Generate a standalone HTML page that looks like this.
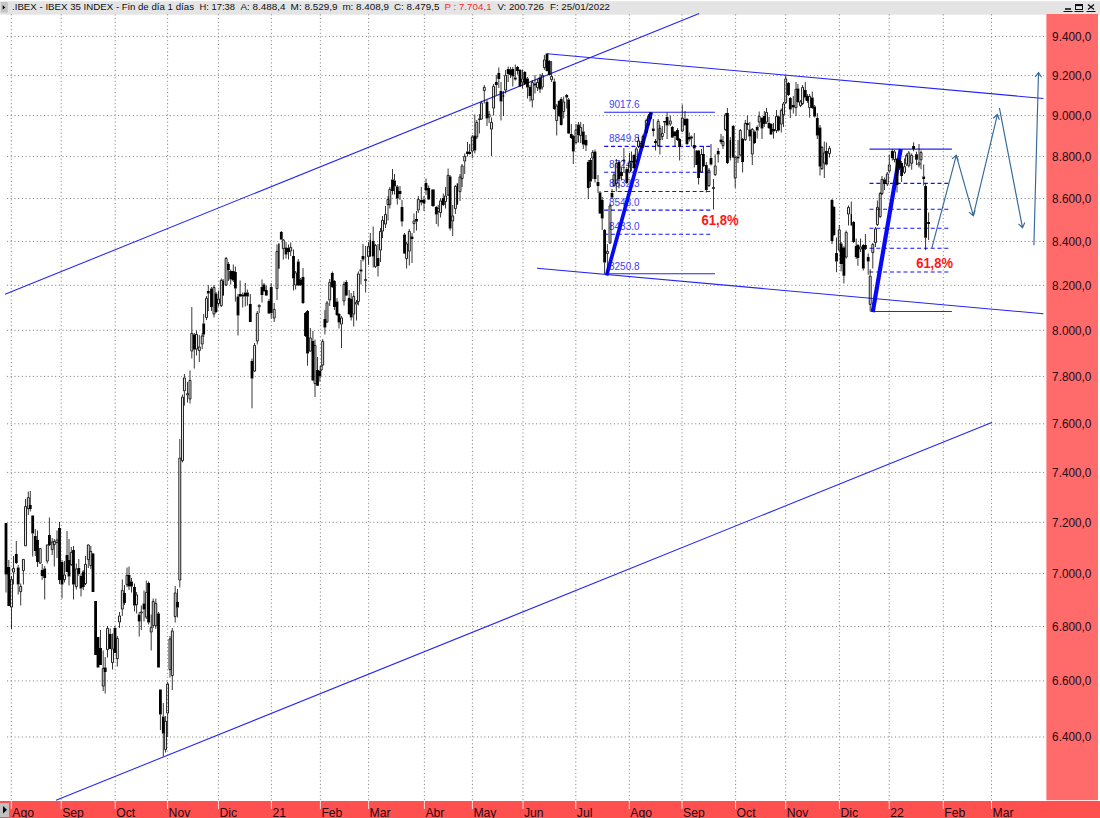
<!DOCTYPE html>
<html lang="es"><head><meta charset="utf-8"><title>.IBEX - IBEX 35 INDEX</title>
<style>html,body{margin:0;padding:0;background:#fff;overflow:hidden}svg{display:block}text{font-family:"Liberation Sans",Arial,sans-serif}</style></head><body>
<svg width="1100" height="818" viewBox="0 0 1100 818">
<rect width="1100" height="818" fill="#fff"/>
<rect x="0" y="1.2" width="1100" height="13.5" fill="#e4e4e4"/>
<rect x="0.8" y="2" width="7" height="10.6" fill="#c4c4c4"/><path d="M2.7 5.2 L5.3 7.4 L2.7 9.6 Z" fill="#000"/>
<g stroke="#787878" stroke-width="1" stroke-dasharray="1.1 2.6" fill="none" opacity="0.9">
<line x1="11.3" y1="14.3" x2="11.3" y2="801"/>
<line x1="61.2" y1="14.3" x2="61.2" y2="801"/>
<line x1="115.2" y1="14.3" x2="115.2" y2="801"/>
<line x1="167.6" y1="14.3" x2="167.6" y2="801"/>
<line x1="218.4" y1="14.3" x2="218.4" y2="801"/>
<line x1="271.4" y1="14.3" x2="271.4" y2="801"/>
<line x1="320.4" y1="14.3" x2="320.4" y2="801"/>
<line x1="368.6" y1="14.3" x2="368.6" y2="801"/>
<line x1="424.4" y1="14.3" x2="424.4" y2="801"/>
<line x1="472.4" y1="14.3" x2="472.4" y2="801"/>
<line x1="523" y1="14.3" x2="523" y2="801"/>
<line x1="575.8" y1="14.3" x2="575.8" y2="801"/>
<line x1="629.3" y1="14.3" x2="629.3" y2="801"/>
<line x1="682" y1="14.3" x2="682" y2="801"/>
<line x1="735.6" y1="14.3" x2="735.6" y2="801"/>
<line x1="785.7" y1="14.3" x2="785.7" y2="801"/>
<line x1="839.4" y1="14.3" x2="839.4" y2="801"/>
<line x1="889.2" y1="14.3" x2="889.2" y2="801"/>
<line x1="943.3" y1="14.3" x2="943.3" y2="801"/>
<line x1="991.5" y1="14.3" x2="991.5" y2="801"/>
<line x1="7" y1="36.4" x2="1046.4" y2="36.4"/>
<line x1="7" y1="75.6" x2="1046.4" y2="75.6"/>
<line x1="7" y1="115.6" x2="1046.4" y2="115.6"/>
<line x1="7" y1="156.6" x2="1046.4" y2="156.6"/>
<line x1="7" y1="198.5" x2="1046.4" y2="198.5"/>
<line x1="7" y1="241.4" x2="1046.4" y2="241.4"/>
<line x1="7" y1="285.3" x2="1046.4" y2="285.3"/>
<line x1="7" y1="330.3" x2="1046.4" y2="330.3"/>
<line x1="7" y1="376.4" x2="1046.4" y2="376.4"/>
<line x1="7" y1="423.8" x2="1046.4" y2="423.8"/>
<line x1="7" y1="472.4" x2="1046.4" y2="472.4"/>
<line x1="7" y1="522.3" x2="1046.4" y2="522.3"/>
<line x1="7" y1="573.6" x2="1046.4" y2="573.6"/>
<line x1="7" y1="626.5" x2="1046.4" y2="626.5"/>
<line x1="7" y1="680.9" x2="1046.4" y2="680.9"/>
<line x1="7" y1="737.0" x2="1046.4" y2="737.0"/>
</g>
<g stroke="#2424f4" stroke-width="1.05" fill="none">
<line x1="5" y1="294.3" x2="699.2" y2="13.6"/>
<line x1="56" y1="800.3" x2="991.8" y2="422.6"/>
<line x1="547.2" y1="53.7" x2="1043.5" y2="98.4"/>
<line x1="537" y1="268.3" x2="1043.5" y2="313.7"/>
<line x1="604.2" y1="112.3" x2="714.9" y2="112.3"/>
<line x1="606.2" y1="273.7" x2="715" y2="273.7"/>
<line x1="869.5" y1="149.1" x2="951.9" y2="149.1"/>
<line x1="872" y1="311.5" x2="951.9" y2="311.5"/>
</g>
<g stroke="#1010ff" stroke-width="1.1" stroke-dasharray="4 2.8" fill="none">
<line x1="604.2" y1="146.4" x2="712.5" y2="146.4"/>
<line x1="604.2" y1="172.2" x2="712.5" y2="172.2"/>
<line x1="604.2" y1="191.5" x2="712.5" y2="191.5"/>
<line x1="604.2" y1="210.1" x2="712.5" y2="210.1"/>
<line x1="604.2" y1="234.3" x2="712.5" y2="234.3"/>
<line x1="869.5" y1="183.4" x2="950.5" y2="183.4"/>
<line x1="869.5" y1="209.3" x2="950.5" y2="209.3"/>
<line x1="869.5" y1="228.3" x2="950.5" y2="228.3"/>
<line x1="869.5" y1="248.2" x2="950.5" y2="248.2"/>
<line x1="869.5" y1="272.0" x2="950.5" y2="272.0"/>
</g>
<g fill="#4242ff" font-size="10px">
<text x="609" y="107.8">9017.6</text>
<text x="609" y="141.7">8849.8</text>
<text x="609" y="167.8">8724.7</text>
<text x="609" y="187.3">8632.3</text>
<text x="609" y="205.7">8543.0</text>
<text x="609" y="229.8">8433.0</text>
<text x="609" y="269.5">8250.8</text>
</g>
<g stroke="#0808f8" stroke-linecap="butt" fill="none">
<line x1="606.6" y1="275.6" x2="651.3" y2="112.2" stroke-width="3.7"/>
<line x1="872.7" y1="312.2" x2="900.7" y2="149" stroke-width="4.2"/>
</g>
<g fill="#ff1616" font-size="14px" font-weight="bold">
<text x="701.5" y="224.8" textLength="37.2" lengthAdjust="spacingAndGlyphs">61,8%</text>
<text x="916.2" y="267.8" textLength="36.8" lengthAdjust="spacingAndGlyphs">61,8%</text>
</g>
<g id="candles">
<path d="M6.0 523.0V523.0M6.0 574.5V592.5M8.8 560.0V567.0M8.8 606.0V606.0M11.5 576.0V579.0M11.5 607.5V629.0M13.5 556.0V568.0M13.5 572.5V584.5M16.3 541.0V554.0M16.3 563.0V564.0M18.2 565.0V567.5M18.2 584.5V594.5M20.7 583.5V586.0M20.7 592.0V605.5M23.4 559.0V559.0M23.4 571.0V584.5M25.5 499.0V506.0M25.5 546.2V546.2M28.3 491.5V497.2M28.3 509.0V515.0M30.3 491.0V505.0M30.3 509.0V511.5M32.7 515.5V515.5M32.7 533.5V556.5M35.3 529.0V536.0M35.3 551.0V556.0M37.5 530.5V540.0M37.5 562.0V567.0M40.2 548.2V548.2M40.2 563.5V564.0M42.2 564.0V570.0M42.2 576.0V580.0M44.7 566.0V568.5M44.7 578.0V599.5M47.3 544.5V544.5M47.3 561.5V563.5M49.4 517.5V535.0M49.4 545.0V546.0M52.2 538.0V541.5M52.2 550.0V555.0M54.3 539.0V541.0M54.3 545.0V566.5M57.0 530.5V539.5M57.0 543.0V558.0M59.5 522.0V528.0M59.5 580.0V584.0M62.0 560.0V562.0M62.0 584.5V598.5M64.5 561.0V574.5M64.5 580.0V582.5M67.0 531.0V555.0M67.0 572.0V572.0M69.0 539.0V560.0M69.0 576.5V585.5M71.3 547.0V552.0M71.3 565.0V566.0M73.5 546.0V550.0M73.5 584.5V599.5M76.3 563.5V568.5M76.3 587.0V589.5M78.8 559.0V568.0M78.8 574.0V576.0M81.0 574.0V576.0M81.0 588.5V596.5M83.3 570.0V571.5M83.3 587.0V590.0M85.5 556.0V564.0M85.5 584.0V585.0M88.3 544.5V544.5M88.3 560.0V568.0M90.8 546.0V551.0M90.8 566.0V569.0M93.0 553.0V553.5M93.0 592.0V592.0M95.6 601.0V601.0M95.6 655.0V655.0M98.0 637.0V637.0M98.0 667.5V667.5M100.5 630.0V648.0M100.5 665.0V665.0M103.2 650.5V668.0M103.2 686.5V691.0M105.2 657.0V667.5M105.2 672.0V693.5M107.5 626.0V628.0M107.5 650.0V657.5M110.2 628.5V634.0M110.2 649.0V649.0M112.5 633.5V648.5M112.5 663.0V669.5M115.0 626.0V628.0M115.0 653.0V653.0M117.3 636.0V638.0M117.3 659.0V666.5M119.5 612.0V615.5M119.5 622.5V628.0M122.3 579.5V590.0M122.3 609.5V616.0M124.5 585.0V593.0M124.5 603.0V605.0M127.0 567.5V575.0M127.0 585.0V587.0M129.0 566.5V575.0M129.0 586.5V590.0M131.5 578.0V581.5M131.5 586.5V592.5M134.5 583.5V587.0M134.5 605.5V611.5M136.6 592.0V594.5M136.6 605.0V613.5M139.2 612.0V614.5M139.2 621.5V636.5M141.3 605.5V611.5M141.3 613.5V630.0M144.0 590.5V603.5M144.0 609.5V621.5M146.3 580.5V592.0M146.3 617.5V619.0M148.6 581.5V583.0M148.6 622.5V624.5M151.2 614.5V627.0M151.2 632.5V650.5M153.2 598.5V601.0M153.2 626.0V628.0M155.8 598.5V603.0M155.8 626.0V629.0M158.5 612.0V613.5M158.5 667.5V667.5M160.4 689.5V689.5M160.4 714.5V730.0M163.3 703.0V716.5M163.3 733.5V756.5M165.6 716.0V721.0M165.6 750.0V752.5M167.6 682.0V683.5M167.6 713.5V737.0M170.0 636.0V638.5M170.0 670.0V677.5M172.3 628.0V630.5M172.3 676.0V690.0M175.2 586.0V592.5M175.2 617.0V622.5M177.5 589.0V602.0M177.5 607.5V617.5M179.8 439.0V457.6M179.8 580.5V587.5M182.5 394.6V396.7M182.5 461.0V462.4M184.4 374.0V377.5M184.4 391.2V405.6M187.5 382.0V393.3M187.5 395.3V402.5M190.0 370.5V380.0M190.0 399.5V403.5M191.8 307.0V333.0M191.8 351.5V358.5M194.3 333.0V334.5M194.3 349.5V368.5M196.5 330.5V334.0M196.5 349.5V355.5M199.3 335.0V346.5M199.3 351.0V362.0M202.2 333.0V335.5M202.2 344.5V349.0M203.7 314.0V323.5M203.7 334.5V337.0M206.5 296.0V298.0M206.5 318.0V320.0M208.3 285.0V291.0M208.3 293.5V311.0M211.5 287.0V288.5M211.5 307.0V311.0M214.0 285.0V287.0M214.0 314.5V317.5M216.0 292.0V293.5M216.0 312.0V313.0M218.5 290.5V298.5M218.5 304.0V306.5M221.3 278.5V280.0M221.3 306.0V307.0M223.2 279.0V280.5M223.2 295.5V296.0M226.1 257.0V258.0M226.1 285.5V286.0M228.4 262.0V264.0M228.4 270.0V281.0M230.7 269.5V271.0M230.7 279.5V284.5M233.3 264.5V271.0M233.3 280.5V282.0M235.4 266.5V272.0M235.4 288.5V301.5M238.0 294.0V296.5M238.0 315.5V335.5M240.1 280.5V294.0M240.1 296.5V297.0M242.7 292.5V294.5M242.7 296.5V307.5M245.3 283.0V292.5M245.3 296.5V306.5M247.4 289.5V292.5M247.4 296.5V305.5M250.3 294.0V304.0M250.3 322.0V322.0M252.0 358.5V361.0M252.0 378.5V408.3M254.6 343.0V345.0M254.6 371.5V372.0M257.3 311.0V313.0M257.3 341.5V344.5M259.2 304.5V304.8M259.2 307.2V313.0M262.0 279.5V287.0M262.0 295.0V302.5M264.0 283.0V284.5M264.0 291.0V292.0M266.3 286.0V290.0M266.3 295.5V296.0M269.0 299.0V301.0M269.0 313.5V314.0M271.2 283.0V287.0M271.2 313.0V318.5M274.2 303.0V309.0M274.2 318.5V322.0M277.0 244.5V251.0M277.0 289.0V300.0M278.9 243.0V244.0M278.9 268.5V269.0M281.3 231.0V232.0M281.3 239.5V240.0M283.3 239.0V239.5M283.3 249.0V259.5M286.0 242.0V247.5M286.0 254.5V258.5M288.5 244.5V248.0M288.5 252.0V259.5M290.7 242.5V247.0M290.7 251.5V256.0M293.5 249.5V256.0M293.5 278.5V290.5M295.6 271.0V272.5M295.6 285.5V289.5M298.3 259.0V261.5M298.3 285.5V286.0M300.6 278.0V279.5M300.6 285.0V286.0M303.0 268.0V277.0M303.0 303.0V304.0M305.5 312.0V313.0M305.5 336.0V337.0M307.5 310.0V311.0M307.5 353.5V365.7M310.3 328.0V337.5M310.3 351.5V352.0M312.9 331.0V341.0M312.9 380.5V381.0M315.0 339.5V345.0M315.0 384.0V397.0M317.5 357.0V370.0M317.5 385.7V386.0M319.9 370.0V371.0M319.9 376.5V381.5M321.2 365.0V365.7M321.2 370.5V371.0M322.7 339.0V341.0M322.7 365.5V366.0M324.9 310.0V319.0M324.9 327.5V334.5M327.0 301.0V302.5M327.0 322.5V323.0M329.7 279.0V282.0M329.7 300.5V306.0M332.3 271.5V273.0M332.3 287.0V288.0M334.4 280.0V281.0M334.4 307.0V310.0M337.0 298.0V301.5M337.0 315.0V316.0M339.0 313.0V314.0M339.0 322.5V328.5M341.5 316.0V317.5M341.5 324.5V348.0M344.0 281.5V284.0M344.0 301.5V305.5M346.3 280.0V282.0M346.3 295.5V296.0M349.2 290.0V298.0M349.2 314.0V315.0M351.2 293.0V299.0M351.2 317.5V320.5M353.7 291.0V296.0M353.7 314.5V326.5M356.5 300.0V302.0M356.5 304.5V320.5M358.4 271.5V273.5M358.4 302.0V305.5M361.0 260.0V269.5M361.0 271.5V284.5M363.0 244.0V256.0M363.0 259.5V261.5M365.6 246.0V279.0M365.6 281.0V292.5M368.5 242.0V246.0M368.5 257.0V265.0M370.3 233.0V240.0M370.3 256.0V257.0M373.2 226.5V241.0M373.2 256.5V267.5M375.4 244.0V245.0M375.4 267.0V268.0M378.0 244.0V258.0M378.0 266.0V276.5M380.5 228.0V231.0M380.5 250.5V262.0M382.5 216.0V220.0M382.5 231.5V238.0M385.5 206.0V214.0M385.5 224.5V228.0M388.0 196.0V199.0M388.0 205.0V220.5M389.8 187.0V189.0M389.8 205.0V208.5M392.5 169.0V179.5M392.5 191.0V194.5M394.5 174.0V180.5M394.5 186.5V194.5M397.3 185.0V186.5M397.3 198.5V204.5M400.0 186.0V191.0M400.0 194.0V200.0M402.0 200.0V207.0M402.0 221.5V226.5M404.5 233.0V234.5M404.5 253.5V254.0M406.6 242.0V243.5M406.6 259.0V268.5M409.3 229.0V231.0M409.3 251.5V265.5M412.0 233.0V236.5M412.0 239.0V263.0M414.0 213.5V220.5M414.0 224.0V233.0M416.5 211.0V219.0M416.5 221.5V230.5M418.3 196.0V199.0M418.3 210.5V213.0M421.3 187.0V200.0M421.3 202.5V205.5M424.0 196.0V199.5M424.0 203.5V211.0M426.0 178.5V183.0M426.0 190.5V195.0M428.7 185.5V188.0M428.7 199.5V200.0M433.0 189.0V189.5M433.0 206.0V207.0M436.3 206.0V207.0M436.3 214.5V224.0M438.2 205.0V208.0M438.2 212.0V226.5M440.6 198.5V200.5M440.6 213.0V217.5M443.3 193.5V198.0M443.3 205.0V206.0M445.5 187.0V195.5M445.5 202.0V208.5M448.1 168.5V175.0M448.1 195.5V196.0M450.1 175.0V176.5M450.1 228.5V230.5M452.7 205.0V215.5M452.7 221.5V236.0M455.4 185.0V186.0M455.4 209.0V214.0M457.4 183.0V183.5M457.4 204.5V205.0M460.0 174.0V176.5M460.0 192.0V201.0M462.1 164.0V165.5M462.1 179.0V187.0M464.7 153.5V156.0M464.7 161.5V174.0M467.5 142.0V151.5M467.5 154.0V156.5M469.6 144.0V152.0M469.6 154.0V154.5M472.3 135.0V136.5M472.3 151.5V158.0M474.8 114.5V135.5M474.8 150.5V153.5M476.8 120.0V122.0M476.8 137.5V139.0M479.4 114.0V118.5M479.4 120.0V133.5M481.4 101.0V102.5M481.4 119.5V120.0M484.3 85.0V87.0M484.3 91.0V103.5M487.0 100.0V102.0M487.0 118.5V126.0M489.1 111.0V114.0M489.1 117.5V123.0M491.5 117.5V122.0M491.5 129.5V156.0M493.6 84.0V86.0M493.6 108.5V115.5M496.3 75.0V82.0M496.3 85.0V95.0M498.8 67.5V73.0M498.8 79.0V88.0M501.0 82.0V91.0M501.0 101.5V120.5M503.5 91.0V95.0M503.5 97.0V116.0M505.6 70.0V75.0M505.6 90.5V93.5M508.2 66.5V69.0M508.2 74.0V82.0M510.5 67.0V69.5M510.5 75.0V78.0M512.8 67.0V69.0M512.8 76.5V86.5M515.3 64.5V77.5M515.3 79.5V80.5M517.5 66.0V67.0M517.5 71.0V74.5M520.0 69.0V70.0M520.0 86.5V87.0M522.5 69.5V78.5M522.5 82.5V88.5M524.8 71.0V72.0M524.8 84.0V85.0M527.5 77.0V78.5M527.5 87.5V98.5M530.0 85.0V87.0M530.0 96.0V101.5M532.3 80.0V82.0M532.3 100.5V107.5M535.0 75.0V83.5M535.0 85.5V93.5M537.5 79.0V82.0M537.5 88.0V91.0M540.0 74.0V77.5M540.0 89.5V93.0M542.3 73.0V75.0M542.3 87.5V89.5M544.4 55.0V59.5M544.4 68.0V69.8M547.0 53.5V53.5M547.0 71.0V71.5M549.3 60.0V61.0M549.3 75.0V75.5M551.6 61.0V76.0M551.6 80.0V82.0M554.3 78.5V81.5M554.3 109.0V110.0M556.7 104.0V105.5M556.7 121.0V135.5M559.2 100.0V101.0M559.2 116.0V117.0M561.2 97.0V99.0M561.2 125.0V125.5M563.7 96.5V101.5M563.7 112.0V118.5M566.7 94.0V95.0M566.7 97.5V108.5M568.6 98.0V99.5M568.6 133.5V134.0M571.3 124.0V134.0M571.3 138.0V139.0M573.3 135.0V136.0M573.3 151.5V164.0M576.0 124.0V129.5M576.0 143.0V144.0M578.5 122.0V124.5M578.5 135.0V142.5M580.7 122.0V127.0M580.7 136.0V143.0M583.3 124.0V131.5M583.3 144.5V149.0M586.0 135.0V140.0M586.0 145.5V151.0M588.3 160.0V162.0M588.3 188.0V199.0M590.5 158.0V160.0M590.5 181.5V187.0M592.7 150.0V152.0M592.7 158.5V179.0M595.0 149.5V151.5M595.0 179.0V182.5M598.0 175.0V182.0M598.0 186.0V193.0M600.0 191.0V192.5M600.0 213.5V214.0M602.2 197.0V200.0M602.2 218.5V230.0M604.6 229.0V230.0M604.6 262.5V274.0M607.4 244.0V251.0M607.4 254.0V274.0M610.0 204.0V205.5M610.0 243.5V244.0M612.0 189.0V193.0M612.0 197.5V199.0M614.0 173.0V174.5M614.0 186.0V187.0M616.3 159.0V163.0M616.3 184.0V191.5M619.0 161.0V162.0M619.0 179.0V188.5M621.5 168.0V172.0M621.5 176.0V180.0M623.9 148.0V159.5M623.9 161.5V173.0M626.8 167.0V169.0M626.8 183.0V184.0M629.5 153.0V162.5M629.5 172.5V173.0M631.5 151.5V161.0M631.5 162.5V171.0M634.0 154.0V155.0M634.0 168.0V169.0M636.3 147.0V148.5M636.3 162.0V163.0M638.5 137.0V140.5M638.5 147.0V148.0M641.0 141.0V143.0M641.0 147.5V148.5M643.0 134.5V136.0M643.0 147.5V148.0M646.3 118.5V120.0M646.3 133.0V134.0M648.5 114.0V116.0M648.5 125.0V126.0M650.5 112.0V112.5M650.5 119.0V120.0M653.3 119.0V128.5M653.3 131.0V136.5M655.5 139.0V141.0M655.5 143.0V150.5M658.2 119.0V121.0M658.2 146.0V147.0M659.9 125.0V128.0M659.9 140.0V154.5M662.3 126.0V133.0M662.3 137.0V140.0M664.6 121.0V121.0M664.6 122.5V133.0M667.1 112.5V117.0M667.1 125.5V139.0M670.3 115.5V120.5M670.3 124.5V126.0M672.3 126.0V127.0M672.3 137.5V138.0M675.0 131.0V131.5M675.0 136.0V146.0M677.5 128.0V130.0M677.5 140.0V141.0M679.6 138.0V139.0M679.6 147.0V160.5M682.3 104.5V117.5M682.3 131.5V132.0M685.0 111.0V119.0M685.0 125.0V126.0M687.0 118.0V119.0M687.0 144.0V145.0M689.3 132.5V137.0M689.3 139.5V141.5M691.4 135.5V136.5M691.4 138.5V146.5M694.3 133.0V145.0M694.3 148.5V167.5M696.8 150.0V150.5M696.8 165.0V165.0M698.6 150.0V150.5M698.6 178.0V184.5M701.5 149.0V154.0M701.5 172.5V173.0M703.4 146.0V154.0M703.4 166.0V167.0M706.3 162.0V165.0M706.3 190.0V192.5M709.0 168.0V170.0M709.0 186.0V187.0M711.0 144.0V158.0M711.0 164.5V165.5M713.5 179.0V187.0M713.5 189.0V209.5M715.2 154.5V165.5M715.2 175.0V176.0M718.2 148.0V151.0M718.2 154.5V162.5M721.0 134.0V139.5M721.0 142.0V144.0M723.0 136.0V141.0M723.0 146.0V149.0M725.4 113.0V114.5M725.4 130.0V131.0M727.4 108.0V113.0M727.4 163.0V164.0M730.3 137.0V140.0M730.3 158.0V160.5M733.2 125.0V126.0M733.2 157.5V158.0M735.2 156.0V157.0M735.2 178.5V188.0M738.0 140.0V156.5M738.0 158.5V163.0M740.3 129.0V130.0M740.3 155.5V156.0M742.6 138.0V139.0M742.6 162.0V172.5M745.3 120.0V123.0M745.3 140.0V141.0M747.4 115.5V123.0M747.4 125.0V130.0M749.8 122.0V129.5M749.8 136.5V141.0M752.3 128.0V129.0M752.3 154.5V165.0M754.6 130.5V131.5M754.6 143.0V144.0M757.2 125.5V127.0M757.2 130.5V138.5M759.2 111.5V116.0M759.2 122.5V127.0M762.0 117.0V118.0M762.0 128.5V139.0M764.3 111.0V116.0M764.3 124.0V127.0M766.5 108.0V112.0M766.5 122.5V124.0M769.0 117.0V123.0M769.0 128.0V129.0M771.0 123.0V124.0M771.0 134.5V135.0M773.5 123.0V129.0M773.5 131.5V138.5M776.5 110.0V116.0M776.5 131.0V133.0M778.5 115.5V116.5M778.5 130.5V131.5M781.3 108.5V110.0M781.3 124.5V132.5M783.5 102.0V103.5M783.5 115.0V127.0M785.7 75.5V78.5M785.7 103.0V104.0M788.5 82.0V83.0M788.5 95.0V96.0M790.3 97.0V98.0M790.3 109.5V118.0M793.3 96.0V105.0M793.3 107.5V113.5M796.0 82.0V89.0M796.0 108.0V116.0M797.9 84.0V88.5M797.9 102.0V103.0M800.5 100.0V101.5M800.5 106.0V107.0M802.6 85.0V87.0M802.6 104.0V105.0M805.3 82.0V90.0M805.3 97.5V100.5M807.4 94.0V96.0M807.4 101.0V103.0M809.6 94.0V96.0M809.6 108.0V117.5M812.3 91.5V97.5M812.3 108.0V109.0M814.6 105.0V106.5M814.6 116.5V117.5M817.3 113.0V118.0M817.3 135.5V139.0M820.0 125.0V127.5M820.0 166.5V175.5M821.9 146.0V147.0M821.9 169.0V170.0M824.3 141.5V152.5M824.3 163.5V178.0M826.4 142.5V151.0M826.4 164.5V165.5M829.5 146.0V148.0M829.5 154.0V157.5M832.0 199.0V200.0M832.0 241.0V244.0M833.9 206.0V207.0M833.9 235.0V236.0M836.5 237.5V253.0M836.5 261.5V272.2M839.3 225.0V229.5M839.3 250.5V251.5M841.1 242.0V243.5M841.1 264.0V271.4M843.9 246.0V247.5M843.9 275.7V283.4M846.2 230.5V232.0M846.2 257.5V258.5M848.5 205.5V207.0M848.5 214.5V225.5M851.3 201.5V214.0M851.3 225.0V226.0M853.6 221.0V222.0M853.6 242.0V243.0M856.2 238.5V246.0M856.2 257.0V259.0M857.9 244.0V245.0M857.9 258.0V265.8M860.5 238.5V246.5M860.5 249.5V252.0M863.3 244.0V245.0M863.3 268.4V270.5M865.4 234.0V245.0M865.4 249.0V250.0M868.2 253.4V257.0M868.2 261.5V274.8M870.2 269.3V275.7M870.2 304.8V311.6M872.8 243.0V244.0M872.8 253.0V268.5M875.5 227.0V228.5M875.5 243.0V247.0M877.4 200.5V207.0M877.4 225.0V226.0M880.2 192.0V193.0M880.2 217.0V218.0M882.0 176.0V179.0M882.0 194.0V195.0M884.5 177.5V179.5M884.5 184.0V190.0M887.3 172.0V173.5M887.3 184.5V186.0M889.3 154.5V164.5M889.3 171.5V173.0M892.3 149.0V151.0M892.3 158.0V160.5M894.5 150.0V151.5M894.5 160.0V162.4M897.0 158.0V159.0M897.0 185.0V192.5M899.5 158.0V160.0M899.5 168.0V170.0M901.6 161.0V163.0M901.6 176.0V182.0M904.5 158.5V166.2M904.5 172.7V174.0M906.6 153.5V155.0M906.6 164.5V166.0M908.8 151.0V152.5M908.8 166.2V167.5M911.7 153.5V155.0M911.7 163.7V169.7M913.6 142.3V146.0M913.6 149.0V151.3M916.5 151.7V154.3M916.5 159.8V165.0M919.0 144.0V162.4M919.0 165.4V167.5M921.0 150.5V152.0M921.0 160.2V169.2M923.7 164.5V176.5M923.7 179.0V185.5M925.6 183.3V186.0M925.6 237.8V250.2M928.6 212.5V222.0M928.6 224.0V240.0" stroke="#000" stroke-width="1" fill="none" opacity="0.78"/>
<path d="M4.60 523.0h2.8V574.5h-2.8ZM7.40 567.0h2.8V606.0h-2.8ZM14.90 554.0h2.8V563.0h-2.8ZM16.80 567.5h2.8V584.5h-2.8ZM28.90 505.0h2.8V509.0h-2.8ZM31.30 515.5h2.8V533.5h-2.8ZM33.90 536.0h2.8V551.0h-2.8ZM36.10 540.0h2.8V562.0h-2.8ZM40.80 570.0h2.8V576.0h-2.8ZM43.30 568.5h2.8V578.0h-2.8ZM48.00 535.0h2.8V545.0h-2.8ZM58.10 528.0h2.8V580.0h-2.8ZM60.60 562.0h2.8V584.5h-2.8ZM65.60 555.0h2.8V572.0h-2.8ZM67.60 560.0h2.8V576.5h-2.8ZM72.10 550.0h2.8V584.5h-2.8ZM77.40 568.0h2.8V574.0h-2.8ZM79.60 576.0h2.8V588.5h-2.8ZM81.90 571.5h2.8V587.0h-2.8ZM91.60 553.5h2.8V592.0h-2.8ZM94.20 601.0h2.8V655.0h-2.8ZM96.60 637.0h2.8V667.5h-2.8ZM99.10 648.0h2.8V665.0h-2.8ZM103.80 667.5h2.8V672.0h-2.8ZM108.80 634.0h2.8V649.0h-2.8ZM113.60 628.0h2.8V653.0h-2.8ZM123.10 593.0h2.8V603.0h-2.8ZM127.60 575.0h2.8V586.5h-2.8ZM130.10 581.5h2.8V586.5h-2.8ZM133.10 587.0h2.8V605.5h-2.8ZM137.80 614.5h2.8V621.5h-2.8ZM142.60 603.5h2.8V609.5h-2.8ZM147.20 583.0h2.8V622.5h-2.8ZM157.10 613.5h2.8V667.5h-2.8ZM159.00 689.5h2.8V714.5h-2.8ZM161.90 716.5h2.8V733.5h-2.8ZM176.10 602.0h2.8V607.5h-2.8ZM192.90 334.5h2.8V349.5h-2.8ZM202.30 323.5h2.8V334.5h-2.8ZM206.90 291.0h2.8V293.5h-2.8ZM210.10 288.5h2.8V307.0h-2.8ZM214.60 293.5h2.8V312.0h-2.8ZM222.45 280.5h1.5V295.5h-1.5ZM227.00 264.0h2.8V270.0h-2.8ZM229.30 271.0h2.8V279.5h-2.8ZM231.90 271.0h2.8V280.5h-2.8ZM234.00 272.0h2.8V288.5h-2.8ZM236.60 296.5h2.8V315.5h-2.8ZM238.70 294.0h2.8V296.5h-2.8ZM241.30 294.5h2.8V296.5h-2.8ZM243.90 292.5h2.8V296.5h-2.8ZM246.00 292.5h2.8V296.5h-2.8ZM248.90 304.0h2.8V322.0h-2.8ZM250.60 361.0h2.8V378.5h-2.8ZM260.60 287.0h2.8V295.0h-2.8ZM262.60 284.5h2.8V291.0h-2.8ZM264.90 290.0h2.8V295.5h-2.8ZM267.60 301.0h2.8V313.5h-2.8ZM269.80 287.0h2.8V313.0h-2.8ZM278.20 244.0h1.4V268.5h-1.4ZM279.90 232.0h2.8V239.5h-2.8ZM284.60 247.5h2.8V254.5h-2.8ZM287.10 248.0h2.8V252.0h-2.8ZM292.10 256.0h2.8V278.5h-2.8ZM296.90 261.5h2.8V285.5h-2.8ZM299.20 279.5h2.8V285.0h-2.8ZM301.60 277.0h2.8V303.0h-2.8ZM304.10 313.0h2.8V336.0h-2.8ZM306.10 311.0h2.8V353.5h-2.8ZM311.50 341.0h2.8V380.5h-2.8ZM316.10 370.0h2.8V385.7h-2.8ZM318.50 371.0h2.8V376.5h-2.8ZM323.50 319.0h2.8V327.5h-2.8ZM330.90 273.0h2.8V287.0h-2.8ZM333.00 281.0h2.8V307.0h-2.8ZM335.60 301.5h2.8V315.0h-2.8ZM337.60 314.0h2.8V322.5h-2.8ZM344.90 282.0h2.8V295.5h-2.8ZM347.80 298.0h2.8V314.0h-2.8ZM349.80 299.0h2.8V317.5h-2.8ZM359.60 269.5h2.8V271.5h-2.8ZM361.60 256.0h2.8V259.5h-2.8ZM369.60 240.0h1.4V256.0h-1.4ZM371.80 241.0h2.8V256.5h-2.8ZM376.60 258.0h2.8V266.0h-2.8ZM391.10 179.5h2.8V191.0h-2.8ZM393.10 180.5h2.8V186.5h-2.8ZM395.90 186.5h2.8V198.5h-2.8ZM398.60 191.0h2.8V194.0h-2.8ZM400.60 207.0h2.8V221.5h-2.8ZM403.10 234.5h2.8V253.5h-2.8ZM410.60 236.5h2.8V239.0h-2.8ZM415.10 219.0h2.8V221.5h-2.8ZM419.90 200.0h2.8V202.5h-2.8ZM422.60 199.5h2.8V203.5h-2.8ZM424.60 183.0h2.8V190.5h-2.8ZM427.30 188.0h2.8V199.5h-2.8ZM431.30 189.5h3.4V206.0h-3.4ZM434.90 207.0h2.8V214.5h-2.8ZM441.90 198.0h2.8V205.0h-2.8ZM448.70 176.5h2.8V228.5h-2.8ZM456.70 183.5h1.4V204.5h-1.4ZM466.10 151.5h2.8V154.0h-2.8ZM468.20 152.0h2.8V154.0h-2.8ZM473.40 135.5h2.8V150.5h-2.8ZM485.60 102.0h2.8V118.5h-2.8ZM494.90 82.0h2.8V85.0h-2.8ZM497.40 73.0h2.8V79.0h-2.8ZM499.60 91.0h2.8V101.5h-2.8ZM502.80 95.0h1.4V97.0h-1.4ZM506.80 69.0h2.8V74.0h-2.8ZM509.10 69.5h2.8V75.0h-2.8ZM511.40 69.0h2.8V76.5h-2.8ZM513.90 77.5h2.8V79.5h-2.8ZM516.10 67.0h2.8V71.0h-2.8ZM518.60 70.0h2.8V86.5h-2.8ZM523.40 72.0h2.8V84.0h-2.8ZM526.10 78.5h2.8V87.5h-2.8ZM528.60 87.0h2.8V96.0h-2.8ZM533.60 83.5h2.8V85.5h-2.8ZM538.60 77.5h2.8V89.5h-2.8ZM545.60 53.5h2.8V71.0h-2.8ZM547.90 61.0h2.8V75.0h-2.8ZM552.90 81.5h2.8V109.0h-2.8ZM557.80 101.0h2.8V116.0h-2.8ZM559.80 99.0h2.8V125.0h-2.8ZM565.30 95.0h2.8V97.5h-2.8ZM567.20 99.5h2.8V133.5h-2.8ZM569.90 134.0h2.8V138.0h-2.8ZM571.90 136.0h2.8V151.5h-2.8ZM577.10 124.5h2.8V135.0h-2.8ZM581.90 131.5h2.8V144.5h-2.8ZM584.60 140.0h2.8V145.5h-2.8ZM586.90 162.0h2.8V188.0h-2.8ZM589.10 160.0h2.8V181.5h-2.8ZM593.60 151.5h2.8V179.0h-2.8ZM596.60 182.0h2.8V186.0h-2.8ZM598.60 192.5h2.8V213.5h-2.8ZM600.80 200.0h2.8V218.5h-2.8ZM603.20 230.0h2.8V262.5h-2.8ZM610.60 193.0h2.8V197.5h-2.8ZM617.60 162.0h2.8V179.0h-2.8ZM620.10 172.0h2.8V176.0h-2.8ZM625.40 169.0h2.8V183.0h-2.8ZM630.10 161.0h2.8V162.5h-2.8ZM632.60 155.0h2.8V168.0h-2.8ZM651.90 128.5h2.8V131.0h-2.8ZM654.10 141.0h2.8V143.0h-2.8ZM663.20 121.0h2.8V122.5h-2.8ZM665.70 117.0h2.8V125.5h-2.8ZM670.90 127.0h2.8V137.5h-2.8ZM673.60 131.5h2.8V136.0h-2.8ZM676.10 130.0h2.8V140.0h-2.8ZM678.20 139.0h2.8V147.0h-2.8ZM683.60 119.0h2.8V125.0h-2.8ZM685.60 119.0h2.8V144.0h-2.8ZM687.90 137.0h2.8V139.5h-2.8ZM690.00 136.5h2.8V138.5h-2.8ZM692.90 145.0h2.8V148.5h-2.8ZM695.40 150.5h2.8V165.0h-2.8ZM697.20 150.5h2.8V178.0h-2.8ZM702.00 154.0h2.8V166.0h-2.8ZM704.90 165.0h2.8V190.0h-2.8ZM709.60 158.0h2.8V164.5h-2.8ZM716.80 151.0h2.8V154.5h-2.8ZM719.60 139.5h2.8V142.0h-2.8ZM726.00 113.0h2.8V163.0h-2.8ZM729.60 140.0h1.4V158.0h-1.4ZM731.80 126.0h2.8V157.5h-2.8ZM736.60 156.5h2.8V158.5h-2.8ZM741.20 139.0h2.8V162.0h-2.8ZM746.00 123.0h2.8V125.0h-2.8ZM748.40 129.5h2.8V136.5h-2.8ZM753.20 131.5h2.8V143.0h-2.8ZM755.80 127.0h2.8V130.5h-2.8ZM760.60 118.0h2.8V128.5h-2.8ZM762.90 116.0h2.8V124.0h-2.8ZM767.60 123.0h2.8V128.0h-2.8ZM769.60 124.0h2.8V134.5h-2.8ZM772.10 129.0h2.8V131.5h-2.8ZM777.10 116.5h2.8V130.5h-2.8ZM787.10 83.0h2.8V95.0h-2.8ZM788.90 98.0h2.8V109.5h-2.8ZM791.90 105.0h2.8V107.5h-2.8ZM796.50 88.5h2.8V102.0h-2.8ZM803.90 90.0h2.8V97.5h-2.8ZM806.00 96.0h2.8V101.0h-2.8ZM810.90 97.5h2.8V108.0h-2.8ZM813.20 106.5h2.8V116.5h-2.8ZM815.90 118.0h2.8V135.5h-2.8ZM818.60 127.5h2.8V166.5h-2.8ZM825.00 151.0h2.8V164.5h-2.8ZM830.60 200.0h2.8V241.0h-2.8ZM832.50 207.0h2.8V235.0h-2.8ZM835.10 253.0h2.8V261.5h-2.8ZM839.70 243.5h2.8V264.0h-2.8ZM842.50 247.5h2.8V275.7h-2.8ZM850.60 214.0h1.4V225.0h-1.4ZM852.20 222.0h2.8V242.0h-2.8ZM854.80 246.0h2.8V257.0h-2.8ZM856.50 245.0h2.8V258.0h-2.8ZM861.90 245.0h2.8V268.4h-2.8ZM864.00 245.0h2.8V249.0h-2.8ZM866.80 257.0h2.8V261.5h-2.8ZM883.10 179.5h2.8V184.0h-2.8ZM890.90 151.0h2.8V158.0h-2.8ZM895.60 159.0h2.8V185.0h-2.8ZM898.10 160.0h2.8V168.0h-2.8ZM900.20 163.0h2.8V176.0h-2.8ZM912.20 146.0h2.8V149.0h-2.8ZM915.10 154.3h2.8V159.8h-2.8ZM922.30 176.5h2.8V179.0h-2.8ZM924.20 186.0h2.8V237.8h-2.8ZM927.20 222.0h2.8V224.0h-2.8Z" fill="#000"/>
<path d="M10.55 579.4h1.9V607.1h-1.9ZM12.55 568.4h1.9V572.1h-1.9ZM19.75 586.4h1.9V591.6h-1.9ZM22.45 559.4h1.9V570.6h-1.9ZM24.55 506.4h1.9V545.8h-1.9ZM27.35 497.6h1.9V508.6h-1.9ZM39.25 548.6h1.9V563.1h-1.9ZM46.35 544.9h1.9V561.1h-1.9ZM51.25 541.9h1.9V549.6h-1.9ZM53.35 541.4h1.9V544.6h-1.9ZM56.05 539.9h1.9V542.6h-1.9ZM63.55 574.9h1.9V579.6h-1.9ZM70.35 552.4h1.9V564.6h-1.9ZM75.35 568.9h1.9V586.6h-1.9ZM84.55 564.4h1.9V583.6h-1.9ZM87.35 544.9h1.9V559.6h-1.9ZM89.85 551.4h1.9V565.6h-1.9ZM102.25 668.4h1.9V686.1h-1.9ZM106.55 628.4h1.9V649.6h-1.9ZM111.55 648.9h1.9V662.6h-1.9ZM116.35 638.4h1.9V658.6h-1.9ZM118.55 615.9h1.9V622.1h-1.9ZM121.35 590.4h1.9V609.1h-1.9ZM126.05 575.4h1.9V584.6h-1.9ZM135.65 594.9h1.9V604.6h-1.9ZM140.35 611.9h1.9V613.1h-1.9ZM145.35 592.4h1.9V617.1h-1.9ZM150.25 627.4h1.9V632.1h-1.9ZM152.25 601.4h1.9V625.6h-1.9ZM154.85 603.4h1.9V625.6h-1.9ZM164.65 721.4h1.9V749.6h-1.9ZM166.65 683.9h1.9V713.1h-1.9ZM169.05 638.9h1.9V669.6h-1.9ZM171.35 630.9h1.9V675.6h-1.9ZM174.25 592.9h1.9V616.6h-1.9ZM178.85 458.0h1.9V580.1h-1.9ZM181.55 397.1h1.9V460.6h-1.9ZM183.45 377.9h1.9V390.8h-1.9ZM186.55 393.7h1.9V394.9h-1.9ZM189.05 380.4h1.9V399.1h-1.9ZM190.85 333.4h1.9V351.1h-1.9ZM195.55 334.4h1.9V349.1h-1.9ZM198.35 346.9h1.9V350.6h-1.9ZM201.25 335.9h1.9V344.1h-1.9ZM205.55 298.4h1.9V317.6h-1.9ZM213.05 287.4h1.9V314.1h-1.9ZM217.55 298.9h1.9V303.6h-1.9ZM220.35 280.4h1.9V305.6h-1.9ZM225.15 258.4h1.9V285.1h-1.9ZM253.65 345.4h1.9V371.1h-1.9ZM256.35 313.4h1.9V341.1h-1.9ZM258.25 305.2h1.9V306.8h-1.9ZM273.25 309.4h1.9V318.1h-1.9ZM276.05 251.4h1.9V288.6h-1.9ZM282.35 239.9h1.9V248.6h-1.9ZM289.75 247.4h1.9V251.1h-1.9ZM294.65 272.9h1.9V285.1h-1.9ZM309.35 337.9h1.9V351.1h-1.9ZM314.05 345.4h1.9V383.6h-1.9ZM320.25 366.1h1.9V370.1h-1.9ZM321.75 341.4h1.9V365.1h-1.9ZM326.05 302.9h1.9V322.1h-1.9ZM328.75 282.4h1.9V300.1h-1.9ZM340.55 317.9h1.9V324.1h-1.9ZM343.05 284.4h1.9V301.1h-1.9ZM352.75 296.4h1.9V314.1h-1.9ZM355.55 302.4h1.9V304.1h-1.9ZM357.45 273.9h1.9V301.6h-1.9ZM364.65 279.4h1.9V280.6h-1.9ZM367.55 246.4h1.9V256.6h-1.9ZM374.45 245.4h1.9V266.6h-1.9ZM379.55 231.4h1.9V250.1h-1.9ZM381.55 220.4h1.9V231.1h-1.9ZM384.55 214.4h1.9V224.1h-1.9ZM387.05 199.4h1.9V204.6h-1.9ZM388.85 189.4h1.9V204.6h-1.9ZM405.65 243.9h1.9V258.6h-1.9ZM408.35 231.4h1.9V251.1h-1.9ZM413.05 220.9h1.9V223.6h-1.9ZM417.35 199.4h1.9V210.1h-1.9ZM437.25 208.4h1.9V211.6h-1.9ZM439.65 200.9h1.9V212.6h-1.9ZM444.55 195.9h1.9V201.6h-1.9ZM447.15 175.4h1.9V195.1h-1.9ZM451.75 215.9h1.9V221.1h-1.9ZM454.45 186.4h1.9V208.6h-1.9ZM459.05 176.9h1.9V191.6h-1.9ZM461.15 165.9h1.9V178.6h-1.9ZM463.75 156.4h1.9V161.1h-1.9ZM471.35 136.9h1.9V151.1h-1.9ZM475.85 122.4h1.9V137.1h-1.9ZM478.45 118.9h1.9V119.6h-1.9ZM480.45 102.9h1.9V119.1h-1.9ZM483.35 87.4h1.9V90.6h-1.9ZM488.15 114.4h1.9V117.1h-1.9ZM490.55 122.4h1.9V129.1h-1.9ZM492.65 86.4h1.9V108.1h-1.9ZM504.65 75.4h1.9V90.1h-1.9ZM521.55 78.9h1.9V82.1h-1.9ZM531.35 82.4h1.9V100.1h-1.9ZM536.55 82.4h1.9V87.6h-1.9ZM541.35 75.4h1.9V87.1h-1.9ZM543.45 59.9h1.9V67.6h-1.9ZM550.65 76.4h1.9V79.6h-1.9ZM555.75 105.9h1.9V120.6h-1.9ZM562.75 101.9h1.9V111.6h-1.9ZM575.05 129.9h1.9V142.6h-1.9ZM579.75 127.4h1.9V135.6h-1.9ZM591.75 152.4h1.9V158.1h-1.9ZM606.45 251.4h1.9V253.6h-1.9ZM609.05 205.9h1.9V243.1h-1.9ZM613.05 174.9h1.9V185.6h-1.9ZM615.35 163.4h1.9V183.6h-1.9ZM622.95 159.9h1.9V161.1h-1.9ZM628.55 162.9h1.9V172.1h-1.9ZM635.35 148.9h1.9V161.6h-1.9ZM637.55 140.9h1.9V146.6h-1.9ZM640.05 143.4h1.9V147.1h-1.9ZM642.05 136.4h1.9V147.1h-1.9ZM645.35 120.4h1.9V132.6h-1.9ZM647.55 116.4h1.9V124.6h-1.9ZM649.55 112.9h1.9V118.6h-1.9ZM657.25 121.4h1.9V145.6h-1.9ZM658.95 128.4h1.9V139.6h-1.9ZM661.35 133.4h1.9V136.6h-1.9ZM669.35 120.9h1.9V124.1h-1.9ZM681.35 117.9h1.9V131.1h-1.9ZM700.55 154.4h1.9V172.1h-1.9ZM708.05 170.4h1.9V185.6h-1.9ZM712.55 187.4h1.9V188.6h-1.9ZM714.25 165.9h1.9V174.6h-1.9ZM722.05 141.4h1.9V145.6h-1.9ZM724.45 114.9h1.9V129.6h-1.9ZM734.25 157.4h1.9V178.1h-1.9ZM739.35 130.4h1.9V155.1h-1.9ZM744.35 123.4h1.9V139.6h-1.9ZM751.35 129.4h1.9V154.1h-1.9ZM758.25 116.4h1.9V122.1h-1.9ZM765.55 112.4h1.9V122.1h-1.9ZM775.55 116.4h1.9V130.6h-1.9ZM780.35 110.4h1.9V124.1h-1.9ZM782.55 103.9h1.9V114.6h-1.9ZM784.75 78.9h1.9V102.6h-1.9ZM795.05 89.4h1.9V107.6h-1.9ZM799.55 101.9h1.9V105.6h-1.9ZM801.65 87.4h1.9V103.6h-1.9ZM808.65 96.4h1.9V107.6h-1.9ZM820.95 147.4h1.9V168.6h-1.9ZM823.35 152.9h1.9V163.1h-1.9ZM828.55 148.4h1.9V153.6h-1.9ZM838.35 229.9h1.9V250.1h-1.9ZM845.25 232.4h1.9V257.1h-1.9ZM847.55 207.4h1.9V214.1h-1.9ZM859.55 246.9h1.9V249.1h-1.9ZM869.25 276.1h1.9V304.4h-1.9ZM871.85 244.4h1.9V252.6h-1.9ZM874.55 228.9h1.9V242.6h-1.9ZM876.45 207.4h1.9V224.6h-1.9ZM879.25 193.4h1.9V216.6h-1.9ZM881.05 179.4h1.9V193.6h-1.9ZM886.35 173.9h1.9V184.1h-1.9ZM888.35 164.9h1.9V171.1h-1.9ZM893.55 151.9h1.9V159.6h-1.9ZM903.55 166.6h1.9V172.3h-1.9ZM905.65 155.4h1.9V164.1h-1.9ZM907.85 152.9h1.9V165.8h-1.9ZM910.75 155.4h1.9V163.3h-1.9ZM918.05 162.8h1.9V165.0h-1.9ZM920.05 152.4h1.9V159.8h-1.9Z" fill="none" stroke="#000" stroke-width="0.9"/>
</g>
<g stroke="#34699a" stroke-width="1.15" fill="none" stroke-linejoin="miter">
<path d="M931.8 248.2L956.3 155.3M958.2 160.6L956.3 155.3L952.0 158.9"/>
<path d="M956.3 155.3L973.3 215.7M969.0 212.1L973.3 215.7L975.1 210.4"/>
<path d="M973.3 215.7L997.4 114.6M999.4 119.8L997.4 114.6L993.2 118.3"/>
<path d="M999.4 107.8L1022.5 227.7M1018.5 223.8L1022.5 227.7L1024.8 222.6"/>
<path d="M1033.9 245.2L1038.5 72.5M1041.6 77.2L1038.5 72.5L1035.2 77.0"/>
</g>
<rect x="1046.4" y="14.0" width="51.59999999999991" height="786.2" fill="#ff6b6b"/>
<rect x="0" y="801" width="1100" height="17" fill="#ff5050"/>
<rect x="0" y="803" width="9" height="14" fill="#c0c0c0"/><path d="M3 806 L7 809.7 L3 813.4 Z" fill="#000"/>
<g stroke="#ffd8d8" stroke-width="1" fill="none">
<line x1="11.3" y1="801" x2="11.3" y2="809"/>
<line x1="61.2" y1="801" x2="61.2" y2="809"/>
<line x1="115.2" y1="801" x2="115.2" y2="809"/>
<line x1="167.6" y1="801" x2="167.6" y2="809"/>
<line x1="218.4" y1="801" x2="218.4" y2="809"/>
<line x1="271.4" y1="801" x2="271.4" y2="809"/>
<line x1="320.4" y1="801" x2="320.4" y2="809"/>
<line x1="368.6" y1="801" x2="368.6" y2="809"/>
<line x1="424.4" y1="801" x2="424.4" y2="809"/>
<line x1="472.4" y1="801" x2="472.4" y2="809"/>
<line x1="523" y1="801" x2="523" y2="809"/>
<line x1="575.8" y1="801" x2="575.8" y2="809"/>
<line x1="629.3" y1="801" x2="629.3" y2="809"/>
<line x1="682" y1="801" x2="682" y2="809"/>
<line x1="735.6" y1="801" x2="735.6" y2="809"/>
<line x1="785.7" y1="801" x2="785.7" y2="809"/>
<line x1="839.4" y1="801" x2="839.4" y2="809"/>
<line x1="889.2" y1="801" x2="889.2" y2="809"/>
<line x1="943.3" y1="801" x2="943.3" y2="809"/>
<line x1="991.5" y1="801" x2="991.5" y2="809"/>
</g>
<g fill="#2a0a14" font-size="12.2px">
<text x="12.3" y="816.8">Ago</text>
<text x="62.2" y="816.8">Sep</text>
<text x="116.2" y="816.8">Oct</text>
<text x="168.6" y="816.8">Nov</text>
<text x="219.4" y="816.8">Dic</text>
<text x="272.4" y="816.8">21</text>
<text x="321.4" y="816.8">Feb</text>
<text x="369.6" y="816.8">Mar</text>
<text x="425.4" y="816.8">Abr</text>
<text x="473.4" y="816.8">May</text>
<text x="524.0" y="816.8">Jun</text>
<text x="576.8" y="816.8">Jul</text>
<text x="630.3" y="816.8">Ago</text>
<text x="683.0" y="816.8">Sep</text>
<text x="736.6" y="816.8">Oct</text>
<text x="786.7" y="816.8">Nov</text>
<text x="840.4" y="816.8">Dic</text>
<text x="890.2" y="816.8">22</text>
<text x="944.3" y="816.8">Feb</text>
<text x="992.5" y="816.8">Mar</text>
</g>
<g fill="#2a0a14" font-size="12.4px">
<text x="1052.1" y="40.7" textLength="39.3" lengthAdjust="spacingAndGlyphs">9.400,0</text>
<text x="1052.1" y="79.9" textLength="39.3" lengthAdjust="spacingAndGlyphs">9.200,0</text>
<text x="1052.1" y="119.9" textLength="39.3" lengthAdjust="spacingAndGlyphs">9.000,0</text>
<text x="1052.1" y="160.9" textLength="39.3" lengthAdjust="spacingAndGlyphs">8.800,0</text>
<text x="1052.1" y="202.8" textLength="39.3" lengthAdjust="spacingAndGlyphs">8.600,0</text>
<text x="1052.1" y="245.7" textLength="39.3" lengthAdjust="spacingAndGlyphs">8.400,0</text>
<text x="1052.1" y="289.6" textLength="39.3" lengthAdjust="spacingAndGlyphs">8.200,0</text>
<text x="1052.1" y="334.6" textLength="39.3" lengthAdjust="spacingAndGlyphs">8.000,0</text>
<text x="1052.1" y="380.7" textLength="39.3" lengthAdjust="spacingAndGlyphs">7.800,0</text>
<text x="1052.1" y="428.1" textLength="39.3" lengthAdjust="spacingAndGlyphs">7.600,0</text>
<text x="1052.1" y="476.7" textLength="39.3" lengthAdjust="spacingAndGlyphs">7.400,0</text>
<text x="1052.1" y="526.6" textLength="39.3" lengthAdjust="spacingAndGlyphs">7.200,0</text>
<text x="1052.1" y="577.9" textLength="39.3" lengthAdjust="spacingAndGlyphs">7.000,0</text>
<text x="1052.1" y="630.8" textLength="39.3" lengthAdjust="spacingAndGlyphs">6.800,0</text>
<text x="1052.1" y="685.2" textLength="39.3" lengthAdjust="spacingAndGlyphs">6.600,0</text>
<text x="1052.1" y="741.3" textLength="39.3" lengthAdjust="spacingAndGlyphs">6.400,0</text>
</g>
<g font-size="8.8px" fill="#101010">
<text x="12" y="10.1" textLength="182.0" lengthAdjust="spacingAndGlyphs">.IBEX - IBEX 35 INDEX - Fin de día 1 días</text>
<text x="199.6" y="10.1" textLength="35.4" lengthAdjust="spacingAndGlyphs">H: 17:38</text>
<text x="240.4" y="10.1" textLength="45.2" lengthAdjust="spacingAndGlyphs">A: 8.488,4</text>
<text x="290.6" y="10.1" textLength="47.0" lengthAdjust="spacingAndGlyphs">M: 8.529,9</text>
<text x="342.4" y="10.1" textLength="46.6" lengthAdjust="spacingAndGlyphs">m: 8.408,9</text>
<text x="394" y="10.1" textLength="45.4" lengthAdjust="spacingAndGlyphs">C: 8.479,5</text>
<text x="444.4" y="10.1" textLength="47.2" lengthAdjust="spacingAndGlyphs" fill="#ff2a2a">P : 7.704,1</text>
<text x="497.4" y="10.1" textLength="46.6" lengthAdjust="spacingAndGlyphs">V: 200.726</text>
<text x="550" y="10.1" textLength="60.0" lengthAdjust="spacingAndGlyphs">F: 25/01/2022</text>
</g>
<g stroke="#111" stroke-width="1" fill="none">
<path d="M1063.5 11.5h9M1074.5 11.5h9M1086.5 11.5h9"/>
<path d="M1065 9h6" stroke-width="1.6"/>
<rect x="1075.5" y="4.5" width="7" height="5" /><path d="M1075.5 5.3h7" stroke-width="1.6"/>
<path d="M1088 4.5l6 5M1094 4.5l-6 5" stroke-width="1.3"/>
</g>
</svg></body></html>
